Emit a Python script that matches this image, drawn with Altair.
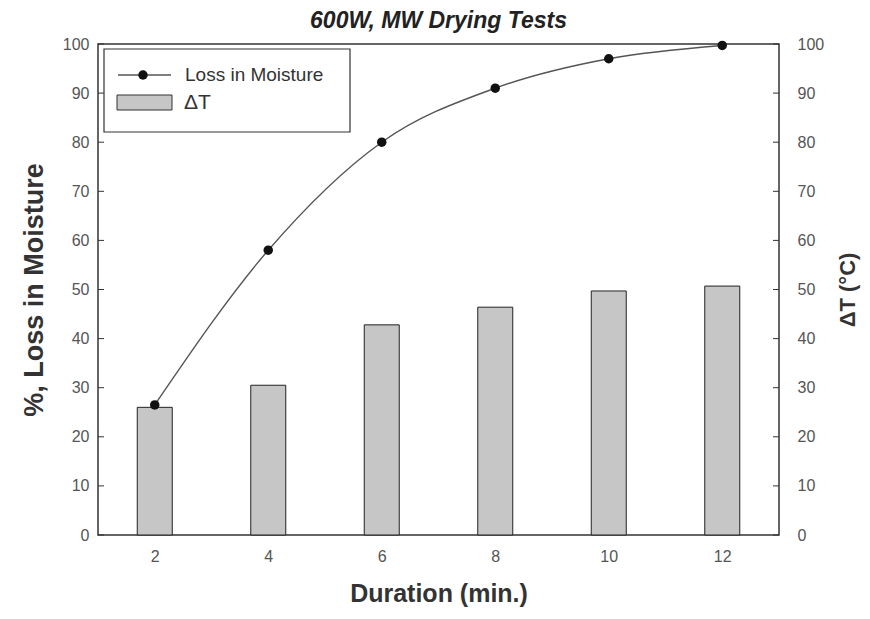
import altair as alt
import pandas as pd

# ---- data ----
duration = [2, 4, 6, 8, 10, 12]
moisture_loss = [26.5, 58.0, 80.0, 91.0, 97.0, 99.7]
delta_t = [26.0, 30.5, 42.8, 46.4, 49.7, 50.7]
x_ticks = [2, 4, 6, 8, 10, 12]
y_ticks = [0, 10, 20, 30, 40, 50, 60, 70, 80, 90, 100]

W, H = 681, 491
FONT = "Liberation Sans"
LBL = 16

df = pd.DataFrame({"duration": duration, "moisture": moisture_loss, "dt": delta_t})
tick_df = pd.DataFrame({"v": y_ticks})
one = pd.DataFrame({"a": [0]})

xscale = alt.Scale(domain=[1, 13], nice=False, zero=False, padding=0)
yscale = alt.Scale(domain=[0, 100], nice=False)

x_enc = alt.X("duration:Q", scale=xscale,
              axis=alt.Axis(values=x_ticks, title="Duration (min.)", ticks=False, domain=False,
                            grid=False, labelPadding=13, titlePadding=17, format="d",
                            titleFontSize=25, labelFontSize=LBL, labelColor="#555",
                            labelFont=FONT))

bars = alt.Chart(df).mark_bar(size=35, fill="#c6c6c6", stroke="#222", strokeWidth=1).encode(
    x=x_enc,
    y=alt.Y("dt:Q", scale=yscale,
            axis=alt.Axis(orient="right", values=y_ticks, title="ΔT (°C)", ticks=False,
                          domain=False, grid=False, labelPadding=18, titlePadding=36,
                          titleAngle=270, titleFontSize=22, labelFontSize=LBL,
                          labelColor="#555", labelFont=FONT)),
)

line = alt.Chart(df).mark_line(interpolate="monotone", color="#555", strokeWidth=1.4).encode(
    x=alt.X("duration:Q", scale=xscale),
    y=alt.Y("moisture:Q", scale=yscale,
            axis=alt.Axis(orient="left", values=y_ticks, title="%, Loss in Moisture", ticks=False,
                          domain=False, grid=False, labelPadding=9, titlePadding=14,
                          titleFontSize=27, labelFontSize=LBL, labelColor="#555",
                          labelFont=FONT)),
)

points = alt.Chart(df).mark_point(filled=True, color="#111", size=90, opacity=1).encode(
    x=alt.X("duration:Q", scale=xscale),
    y=alt.Y("moisture:Q", scale=yscale, axis=None),
)

left_ticks = alt.Chart(tick_df).mark_rule(color="#333", strokeWidth=1).encode(
    y=alt.Y("v:Q", scale=yscale, axis=None),
    x=alt.value(0), x2=alt.value(6),
)
right_ticks = alt.Chart(tick_df).mark_rule(color="#333", strokeWidth=1).encode(
    y=alt.Y("v:Q", scale=yscale, axis=None),
    x=alt.value(W - 6), x2=alt.value(W),
)

# ---- legend box ----
leg_box = alt.Chart(one).mark_rect(fill="white", stroke="#333", strokeWidth=1.2).encode(
    x=alt.value(6), x2=alt.value(252), y=alt.value(5), y2=alt.value(88))
leg_line = alt.Chart(one).mark_rule(color="#555", strokeWidth=1.4).encode(
    x=alt.value(20), x2=alt.value(73), y=alt.value(31))
leg_dot = alt.Chart(one).mark_point(filled=True, color="#111", size=90, opacity=1).encode(
    x=alt.value(45), y=alt.value(31))
leg_t1 = alt.Chart(one).mark_text(align="left", baseline="middle", font=FONT, fontSize=19,
                                  color="#333").encode(
    x=alt.value(87), y=alt.value(31), text=alt.value("Loss in Moisture"))
leg_rect = alt.Chart(one).mark_rect(fill="#c6c6c6", stroke="#333", strokeWidth=1).encode(
    x=alt.value(19), x2=alt.value(74), y=alt.value(51), y2=alt.value(66))
leg_t2 = alt.Chart(one).mark_text(align="left", baseline="middle", font=FONT, fontSize=21,
                                  color="#333").encode(
    x=alt.value(86), y=alt.value(59), text=alt.value("ΔT"))

chart = alt.layer(
    bars, line, points, left_ticks, right_ticks,
    leg_box, leg_line, leg_dot, leg_t1, leg_rect, leg_t2,
).resolve_scale(y="independent").properties(
    width=W, height=H,
    title=alt.TitleParams("600W, MW Drying Tests", font=FONT, fontSize=23, fontWeight="bold",
                          fontStyle="italic", anchor="middle", color="#222", offset=3),
    autosize=alt.AutoSizeParams(type="none"),
    padding={"left": 90, "top": 36, "right": 83, "bottom": 76},
).configure_view(
    stroke="#333", strokeWidth=1.5
).configure_axis(
    titleFont=FONT, titleFontWeight="bold", titleColor="#333",
)

chart.save("out.html", embed_options={"renderer": "svg", "actions": False})
